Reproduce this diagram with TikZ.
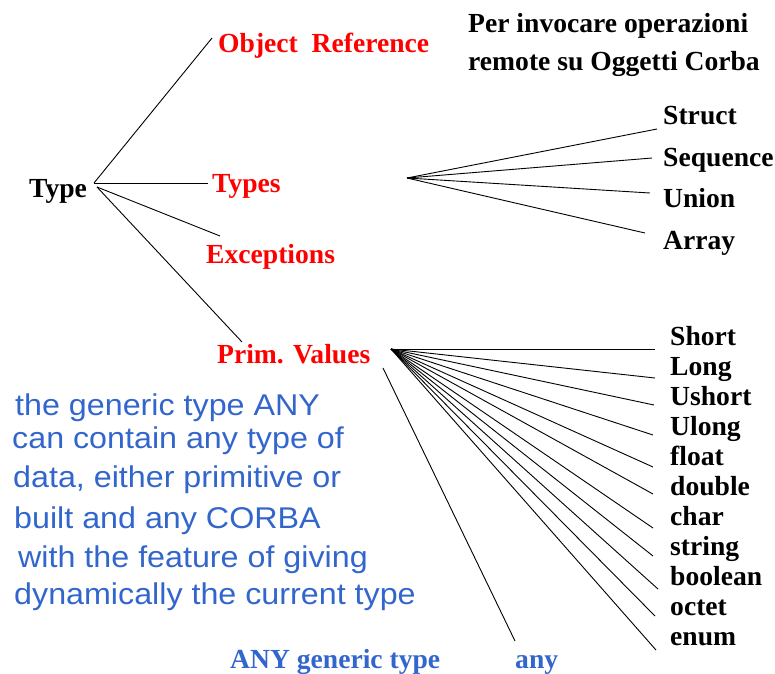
\documentclass[tikz,border=0pt]{standalone}
\usepackage{fontspec}
\setmainfont{Liberation Serif}
\newfontfamily\arialf{Liberation Sans}
\definecolor{myblue}{RGB}{51,102,204}
\definecolor{myred}{RGB}{255,0,0}
\newcommand{\wide}[1]{\scalebox{1.075}[1]{#1}}
\begin{document}
\begin{tikzpicture}[x=1pt,y=-1pt,
  lbl/.style={anchor=base west,inner sep=0pt,font=\fontsize{27.6}{30}\selectfont\bfseries},
  redlbl/.style={lbl,text=myred},
  bluelbl/.style={lbl,text=myblue},
  note/.style={anchor=base west,inner sep=0pt,text=myblue,font=\fontsize{30}{32}\selectfont\arialf},
  conn/.style={line width=0.9pt,black}]
\useasboundingbox (0,0) rectangle (775,673);
% labels
\node[lbl] (type) at (29,197) {Type};
\node[redlbl] (objref) at (218,52) {Object\ \ Reference};
\node[redlbl] (types) at (212,192) {Types};
\node[redlbl] (exc) at (206,263) {Exceptions};
\node[redlbl] (prim) at (217,363) {Prim. Values};
\node[lbl] (per1) at (468,32) {Per invocare operazioni};
\node[lbl] (per2) at (468,70) {remote su Oggetti Corba};
\node[lbl] (struct) at (663,124) {Struct};
\node[lbl] (seq) at (663,166) {Sequence};
\node[lbl] (union) at (663,207) {Union};
\node[lbl] (array) at (663,249) {Array};
\foreach \n/\t [count=\i from 0] in {short/Short,long/Long,ushort/Ushort,ulong/Ulong,float/float,double/double,char/char,string/string,boolean/boolean,octet/octet,enum/enum}{
  \node[lbl] (\n) at (670,345+30*\i) {\t};
}
\node[bluelbl] (anyg) at (230,668) {ANY generic type};
\node[bluelbl] (any) at (515,668) {any};
% note
\node[note] (n1) at (15,415) {\wide{the generic type ANY}};
\node[note] (n2) at (12,448) {\wide{can contain any type of}};
\node[note] (n3) at (13,487) {\wide{data, either primitive or}};
\node[note] (n4) at (14,528) {\wide{built and any CORBA}};
\node[note] (n5) at (18,567) {\wide{with the feature of giving}};
\node[note] (n6) at (14,604) {\wide{dynamically the current type}};
% connector end points
\coordinate (typeA) at (94,183);
\coordinate (typeB) at (97,187);
\coordinate (objrefL) at (212,38);
\coordinate (typesL) at (208,183);
\coordinate (excL) at (220,236);
\coordinate (primL) at (242,342);
\coordinate (typesR) at (407,178);
\coordinate (primR) at (391,349);
\coordinate (primB) at (383,368);
\coordinate (anyT) at (515,641);
\coordinate (structE) at (657,129);
\coordinate (seqE) at (652,158);
\coordinate (unionE) at (650,193);
\coordinate (arrayE) at (645,233);
% connectors
\draw[conn] (typeA) -- (objrefL);
\draw[conn] (typeA) -- (typesL);
\draw[conn] (typeB) -- (excL);
\draw[conn] (typeB) -- (primL);
\draw[conn] (typesR) -- (structE);
\draw[conn] (typesR) -- (seqE);
\draw[conn] (typesR) -- (unionE);
\draw[conn] (typesR) -- (arrayE);
\foreach \n/\xx/\yy in {short/655/349,long/655/378,ushort/654/405,ulong/653/435,float/653/467,double/653/494,char/653/528,string/653/556,boolean/658/589,octet/655/616,enum/656/650}{
  \coordinate (\n E) at (\xx,\yy);
  \draw[conn] (primR) -- (\n E);
}
\draw[conn] (primB) -- (anyT);
\end{tikzpicture}
\end{document}
